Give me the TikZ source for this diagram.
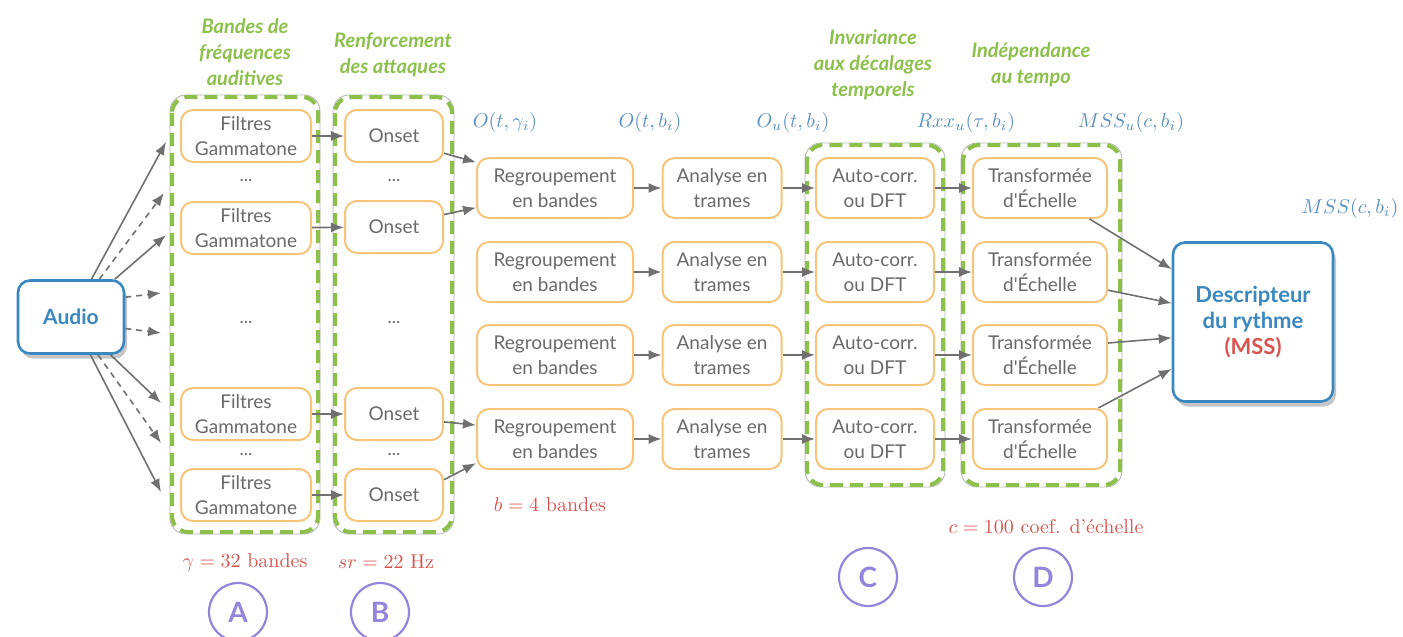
\documentclass[tikz,border=0pt]{standalone}
\usepackage{fontspec}
\newfontfamily\gill{Lato}
\usetikzlibrary{arrows.meta,shadows}
\definecolor{grn}{HTML}{8CC04A}
\definecolor{org}{HTML}{F8C47A}
\definecolor{blu}{HTML}{3A88C0}
\definecolor{txt}{HTML}{6A6A6A}
\definecolor{redl}{HTML}{D9534F}
\definecolor{purp}{HTML}{9484DC}
\definecolor{arr}{HTML}{707070}
\definecolor{mathb}{HTML}{5B8FC0}
\begin{document}
\begin{tikzpicture}[x=0.5pt,y=-0.5pt,
  proc/.style={draw=org, line width=1pt, rounded corners=6pt, align=center, inner sep=0pt,
    font=\gill\fontsize{9.5}{12.5}\selectfont, text=txt, minimum height=26pt, fill=white},
  fw/.style={minimum width=65pt},
  ow/.style={minimum width=49pt},
  rw/.style={minimum width=78pt, minimum height=30pt},
  aw/.style={minimum width=59.5pt, minimum height=30pt},
  cw/.style={minimum width=59pt, minimum height=30pt},
  tw/.style={minimum width=67pt, minimum height=30pt},
  dotsn/.style={font=\gill\fontsize{9}{10}\selectfont, text=txt, inner sep=1pt},
  grp/.style={draw=grn, line width=2pt, dash pattern=on 6.5pt off 3.5pt, rounded corners=8pt},
  grpsh/.style={draw=black!30, line width=0.4pt, rounded corners=8pt},
  ttl/.style={font=\gill\bfseries\itshape\fontsize{10}{13}\selectfont, text=grn, align=center},
  mlab/.style={text=mathb, font=\fontsize{10}{12}\selectfont},
  rlab/.style={text=redl, font=\fontsize{10}{12}\selectfont},
  circ/.style={circle, draw=purp, line width=1.1pt, minimum size=29pt, inner sep=0pt,
    font=\gill\bfseries\fontsize{14}{14}\selectfont, text=purp},
  bigbox/.style={draw=blu, line width=1.3pt, rounded corners=6pt, fill=white, align=center,
    drop shadow={opacity=0.45, shadow xshift=1.5pt, shadow yshift=-2.5pt}},
  arw/.style={draw=arr, line width=0.8pt, -{Latex[length=6.5pt,width=5pt]}},
  darw/.style={arw, dash pattern=on 3pt off 2.5pt}
]
\useasboundingbox (0,0) rectangle (1403,637);

% titles
\node[ttl] (tA) at (245,52) {Bandes de\\fréquences\\auditives};
\node[ttl] (tB) at (393,55) {Renforcement\\des attaques};
\node[ttl] (tC) at (873,65) {Invariance\\aux décalages\\temporels};
\node[ttl] (tD) at (1031,65) {Indépendance\\au tempo};

% groups
\draw[grpsh] (170,95) rectangle (320,534);
\draw[grp] (172,97) rectangle (318,532);
\draw[grpsh] (333,95) rectangle (454,534);
\draw[grp] (335,97) rectangle (452,532);
\draw[grpsh] (805,143) rectangle (945,487);
\draw[grp] (807,145) rectangle (943,485);
\draw[grpsh] (961,143) rectangle (1122,487);
\draw[grp] (963,145) rectangle (1120,485);

% audio
\node[bigbox, minimum width=53pt, minimum height=36.5pt, font=\gill\bfseries\fontsize{10.5}{12}\selectfont, text=blu] (audio) at (71,317) {Audio};

% filtres
\node[proc,fw] (f1) at (246,136) {Filtres\\Gammatone};
\node[proc,fw] (f2) at (246,228) {Filtres\\Gammatone};
\node[proc,fw] (f3) at (246,414) {Filtres\\Gammatone};
\node[proc,fw] (f4) at (246,495) {Filtres\\Gammatone};
\node[dotsn] (fd1) at (246,181) {...};
\node[dotsn] (fd2) at (246,323) {...};
\node[dotsn] (fd3) at (246,455) {...};

% onsets
\node[proc,ow] (o1) at (394,136) {Onset};
\node[proc,ow] (o2) at (394,227) {Onset};
\node[proc,ow] (o3) at (394,414) {Onset};
\node[proc,ow] (o4) at (394,495) {Onset};
\node[dotsn] (od1) at (394,181) {...};
\node[dotsn] (od2) at (394,323) {...};
\node[dotsn] (od3) at (394,455) {...};

% rows
\foreach \i/\y in {1/188,2/272,3/355,4/439}{
  \node[proc,rw] (r\i) at (555,\y) {Regroupement\\en bandes};
  \node[proc,aw] (n\i) at (722,\y) {Analyse en\\trames};
  \node[proc,cw] (c\i) at (875,\y) {Auto-corr.\\ou DFT};
  \node[proc,tw] (t\i) at (1040,\y) {Transformée\\d'Échelle};
  \draw[arw] (r\i) -- (n\i);
  \draw[arw] (n\i) -- (c\i);
  \draw[arw] (c\i) -- (t\i);
}

% descripteur
\node[bigbox, minimum width=80pt, minimum height=79.5pt, font=\gill\bfseries\fontsize{11}{13}\selectfont, text=blu] (desc) at (1253,322) {Descripteur\\du rythme\\{\color{redl}(MSS)}};

% audio arrows
\coordinate (a1) at (166,142);
\coordinate (a2) at (164,193);
\coordinate (a3) at (166,235);
\coordinate (a4) at (161,293);
\coordinate (a5) at (161,333);
\coordinate (a6) at (161,403);
\coordinate (a7) at (161,443);
\coordinate (a8) at (161,492);
\draw[arw] (audio) -- (a1);
\draw[darw] (audio) -- (a2);
\draw[arw] (audio) -- (a3);
\draw[darw] (audio.20) -- (a4);
\draw[darw] (audio.-12) -- (a5);
\draw[arw] (audio) -- (a6);
\draw[darw] (audio) -- (a7);
\draw[arw] (audio) -- (a8);

% filtres -> onsets
\draw[arw] (f1) -- (o1);
\draw[arw] (f2) -- (o2);
\draw[arw] (f3) -- (o3);
\draw[arw] (f4) -- (o4);

% onsets -> regroupement
\draw[arw] (o1.-19) -- (r1.162);
\draw[arw] (o2.14) -- (r1.194);
\draw[arw] (o3.-9) -- (r4.170);
\draw[arw] (o4.17) -- (r4.197);

% transformee -> descripteur
\draw[arw] (t1.-32) -- (desc.147);
\draw[arw] (t2.-15) -- (desc.167);
\draw[arw] (t3.10) -- (desc.191);
\draw[arw] (t4.28.5) -- (desc.210);

% math labels
\node[mlab] (m1) at (505,122) {$O(t,\gamma_i)$};
\node[mlab] (m2) at (650,122) {$O(t,b_i)$};
\node[mlab] (m3) at (793,122) {$O_u(t,b_i)$};
\node[mlab] (m4) at (966,122) {$Rxx_u(\tau,b_i)$};
\node[mlab] (m5) at (1131,122) {$MSS_u(c,b_i)$};
\node[mlab] (m6) at (1350,208) {$MSS(c,b_i)$};

% red labels
\node[rlab] (l1) at (245,562) {$\gamma=32$ bandes};
\node[rlab] (l2) at (386,562) {$sr=22$ Hz};
\node[rlab] (l3) at (550,505) {$b=4$ bandes};
\node[rlab] (l4) at (1046,527) {$c=100$ coef. d'échelle};

% circled letters
\node[circ] (cA) at (238,612) {A};
\node[circ] (cB) at (380,612) {B};
\node[circ] (cC) at (868,577) {C};
\node[circ] (cD) at (1043,577) {D};
\end{tikzpicture}
\end{document}
